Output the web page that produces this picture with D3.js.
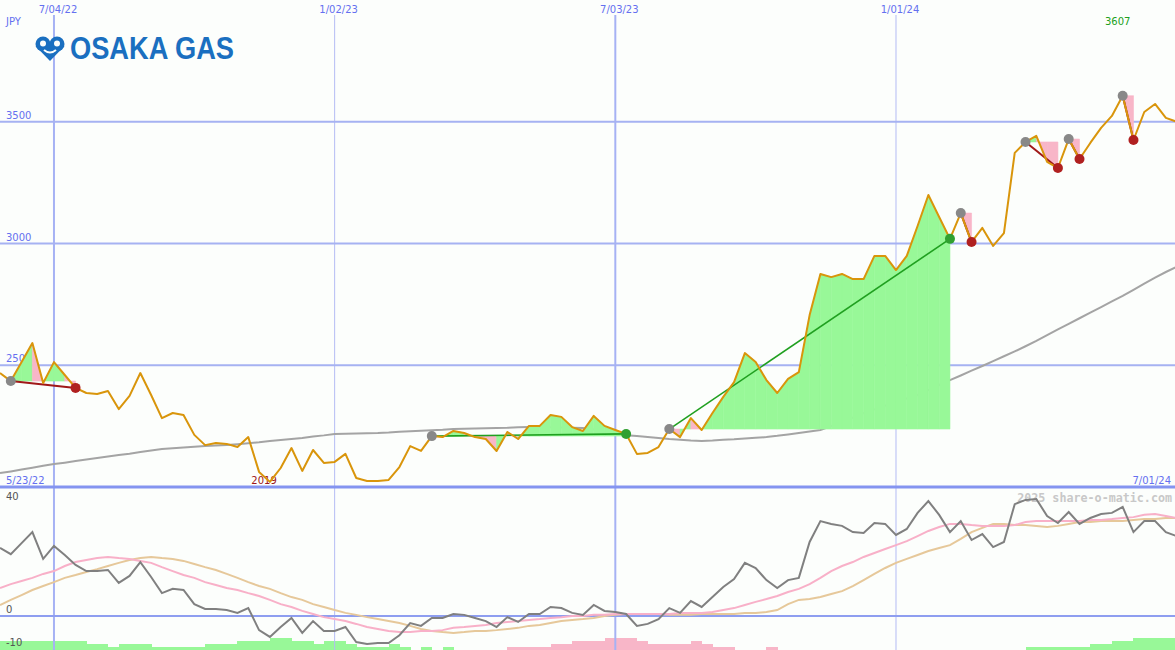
<!DOCTYPE html>
<html><head><meta charset="utf-8">
<script src="https://cdn.jsdelivr.net/npm/d3@7"></script>
<style>html,body{margin:0;padding:0;background:#fcfefc;}svg{display:block;}</style>
</head><body>
<svg id="c" width="1175" height="650"></svg>
<script>
// ---------- DATA ----------
const startDate = Date.UTC(2022, 4, 30); // first weekly point
const price = [2468,2435,2513,2591,2427,2513,2460,2407,2386,2382,2394,2320,2374,2468,2378,2283,2304,2296,2214,2172,
 2181,2177,2164,2205,2062,2021,2078,2160,2066,2152,2099,2103,2136,2037,2025,2025,2029,2082,2168,2148,
 2209,2205,2230,2222,2205,2197,2148,2226,2197,2251,2251,2296,2288,2246,2230,2292,2251,2234,2218,2136,
 2140,2164,2238,2205,2283,2234,2304,2370,2431,2550,2513,2439,2386,2444,2472,2706,2875,2862,2875,2854,
 2854,2949,2949,2891,2949,3072,3199,3109,3019,3125,3006,3064,2990,3043,3372,3417,3442,3335,3310,3429,
 3347,3413,3475,3524,3607,3425,3540,3573,3516,3500];
const movingAvg = [2057,2064,2072,2079,2087,2094,2100,2107,2113,2119,2125,2131,2137,2144,2150,2156,2159,2162,2165,2168,
 2170,2172,2176,2180,2184,2189,2193,2197,2201,2207,2212,2218,2219,2220,2221,2222,2224,2227,2229,2231,
 2233,2235,2238,2239,2240,2241,2242,2243,2245,2246,2246,2245,2244,2243,2242,2236,2227,2218,2213,2209,
 2205,2201,2197,2194,2191,2189,2191,2194,2196,2199,2202,2205,2210,2216,2222,2228,2234,2250,2267,2285,
 2304,2319,2334,2349,2364,2378,2398,2419,2439,2458,2478,2497,2517,2537,2557,2578,2600,2624,2647,2670,
 2693,2716,2739,2762,2785,2810,2835,2860,2883,2904];
const oscillator = [24.1,21.9,25.8,29.7,20.2,24.8,21.6,18.1,15.9,15.9,16.3,11.7,14.2,19.1,13.8,8.1,9.6,9.2,4.2,2.5,
 2.5,2.1,1.1,2.8,-5.0,-7.4,-3.9,-0.7,-6.0,-1.8,-5.3,-5.3,-3.9,-9.2,-9.9,-9.6,-9.6,-6.8,-2.5,-3.5,
 -0.7,-0.7,0.7,0.4,-0.7,-1.8,-3.9,-0.4,-2.1,0.7,0.7,3.2,2.8,1.1,0.4,3.9,1.8,1.4,0.7,-3.5,
 -2.8,-1.1,2.8,1.1,5.3,3.2,6.7,10.3,13.1,18.8,17.0,12.7,9.9,12.7,13.5,26.2,33.6,32.6,31.9,29.7,
 29.4,32.9,32.6,28.7,30.8,36.5,40.7,35.8,29.7,33.6,26.9,29.0,24.4,26.2,39.6,41.1,41.4,35.4,32.9,36.8,
 32.6,34.7,36.1,36.5,38.6,29.7,33.6,33.6,29.7,28.3];
const oscFast = [9.9,11.3,12.4,13.5,14.9,15.9,17.7,19.1,19.8,20.5,20.9,20.5,20.2,19.5,18.8,17.3,15.9,14.5,13.5,12.0,
 11.0,9.9,9.2,8.1,7.1,5.7,4.2,3.2,1.8,0.7,-0.4,-1.1,-1.8,-2.8,-3.9,-4.6,-5.3,-5.7,-5.7,-5.3,
 -5.3,-5.0,-4.2,-3.9,-3.5,-3.2,-2.5,-2.1,-1.8,-1.4,-1.1,-0.7,-0.4,0,0,0.4,0.4,0.7,0.7,0.7,
 0.7,0.7,0.7,1.1,1.1,1.1,1.4,2.1,2.8,3.9,5.0,6.0,7.1,8.5,9.6,11.3,13.5,15.9,17.7,19.1,
 20.9,22.3,23.7,25.1,26.5,28.3,30.1,31.5,32.6,32.6,32.2,31.9,31.9,31.9,32.2,33.3,33.6,33.6,33.6,33.6,
 33.6,34.0,34.0,34.3,34.7,35.0,35.8,36.1,35.4,34.7];
const oscSlow = [3.9,5.7,7.4,9.2,10.6,12.0,13.5,14.5,15.6,16.6,17.7,18.8,19.8,20.5,20.9,20.5,20.2,19.5,18.4,17.3,
 16.3,14.9,13.5,12.0,10.6,9.6,8.1,6.7,5.7,4.2,3.2,2.1,1.1,0.4,-0.4,-1.1,-1.8,-2.5,-3.5,-4.6,
 -5.3,-5.7,-6.0,-5.7,-5.3,-5.3,-5.0,-4.6,-4.2,-3.5,-3.2,-2.5,-1.8,-1.4,-1.1,-0.7,0,0.4,0.7,0.7,
 0.7,0.7,0.4,0.4,0.4,0.7,0.7,0.7,0.7,1.1,1.1,1.4,2.1,4.2,5.7,6.0,6.7,7.8,8.8,10.6,
 12.7,14.9,17.0,18.8,20.2,21.6,23.0,24.1,25.1,27.3,29.7,31.2,32.6,32.6,32.2,32.2,31.9,31.5,31.9,32.6,
 33.3,33.3,33.6,33.6,33.6,34.0,34.3,34.3,34.7,34.7];
// weekly histogram (+ green, - pink), one per week interval
const histo = [3,3,3,3,3,3,3,3,2,2,1,2,2,2,1,1,1,1,1,2,2,2,3,3,3,4,4,3,3,2,3,3,2,1,1,1,2,1,0,1,
 0,1,0,0,0,0,0,-1,-1,-1,-1,-2,-2,-3,-3,-3,-4,-4,-4,-3,-2,-2,-2,-2,-3,-2,-1,-1,0,0,0,-1,0,0,0,0,0,0,0,0,
 0,0,0,0,0,0,0,0,0,0,0,0,0,0,0,1,1,1,1,1,1,2,2,3,3,4,4,4,4];
// signals: start week index, end week index, direction
const signals = [
  {start:1, end:7, dir:"down"},
  {start:40, end:58, dir:"up"},
  {start:62, end:88, dir:"up"},
  {start:89, end:90, dir:"down"},
  {start:95, end:98, dir:"down"},
  {start:99, end:100, dir:"down"},
  {start:104, end:105, dir:"down"}
];
const priceTicks = [3500, 3000, 2500];
const oscTicks = [40, 0, -10];
const dateTicks = [Date.UTC(2022,6,4), Date.UTC(2023,0,2), Date.UTC(2023,6,3), Date.UTC(2024,0,1)];
const majorDateTicks = [Date.UTC(2022,6,4), Date.UTC(2023,6,3)];
const rangeStartLabel = "5/23/22", rangeEndLabel = "7/01/24";
const eventLabel = {text:"2019", index:24};
const currency = "JPY";
const maxLabel = d3.max(price);

// ---------- SCALES ----------
const dates = price.map((_, i) => new Date(startDate + i * 7 * 864e5));
const pxPerWeek = 10.795;
const x = d3.scaleUtc().domain([dates[0], dates[dates.length-1]]).range([0, (dates.length-1)*pxPerWeek]);
const y = d3.scaleLinear().domain([2000, 4000]).range([487, 0]);
const yo = d3.scaleLinear().domain([-10, 40]).range([644.25, 503]);
const yh = d3.scaleLinear().domain([0, 4]).range([650, 638]);
const fmt = d3.utcFormat("%-m/%d/%y");

const svg = d3.select("#c");
const blue = "#6470f0";
const GREEN = "#98f898", PINK = "#f8b6c8";
svg.append("rect").attr("width",1175).attr("height",650).attr("fill","#fcfefc");

// histogram
const hist = svg.append("g").attr("shape-rendering","crispEdges");
histo.forEach((v, i) => {
  if (!v) return;
  const x0 = x(dates[i]), x1 = x(new Date(+dates[i] + 7*864e5));
  const c = v > 0 ? GREEN : PINK;
  hist.append("rect").attr("x", x0).attr("width", x1 - x0 + 0.5)
    .attr("y", yh(Math.abs(v))).attr("height", 650 - yh(Math.abs(v)))
    .attr("fill", c);
});

// vertical grid
dateTicks.forEach(d => {
  const major = majorDateTicks.includes(d);
  svg.append("line").attr("x1", x(d)).attr("x2", x(d)).attr("y1", 15).attr("y2", 650)
    .attr("stroke", major ? "#a6b2f4" : "#b4bcf4").attr("stroke-width", major ? 2 : 1);
});
// horizontal grid upper
priceTicks.forEach(v => {
  svg.append("line").attr("x1",0).attr("x2",1175).attr("y1",y(v)).attr("y2",y(v))
    .attr("stroke","#a6b2f2").attr("stroke-width",2);
  svg.append("text").attr("x",6).attr("y",y(v)-3).text(v)
    .attr("font-family","DejaVu Sans").attr("font-size",10).attr("fill",blue);
});
// panel divider and zero line
svg.append("line").attr("x1",0).attr("x2",1175).attr("y1",y(2000)).attr("y2",y(2000))
  .attr("stroke","#8494f0").attr("stroke-width",3);
svg.append("line").attr("x1",0).attr("x2",1175).attr("y1",yo(0)).attr("y2",yo(0))
  .attr("stroke","#8e9ef0").attr("stroke-width",2);
oscTicks.forEach((v, k) => {
  const last = k === oscTicks.length - 1;
  svg.append("text").attr("x",6).attr("y", last ? yo(v)+2 : yo(v)-3).text(v)
    .attr("font-family","DejaVu Sans").attr("font-size",10).attr("fill","#555");
});

// date labels
dateTicks.forEach(d => {
  svg.append("text").attr("x", x(d)+4).attr("y", 13).attr("text-anchor","middle").text(fmt(new Date(d)))
    .attr("font-family","DejaVu Sans").attr("font-size",10).attr("fill",blue);
});
svg.append("text").attr("x",6).attr("y",25).text(currency)
  .attr("font-family","DejaVu Sans").attr("font-size",10).attr("fill",blue);
svg.append("text").attr("x",6).attr("y",484).text(rangeStartLabel)
  .attr("font-family","DejaVu Sans").attr("font-size",10).attr("fill",blue);
svg.append("text").attr("x",1171).attr("y",484).attr("text-anchor","end").text(rangeEndLabel)
  .attr("font-family","DejaVu Sans").attr("font-size",10).attr("fill",blue);
svg.append("text").attr("x",x(dates[eventLabel.index])+5).attr("y",484).attr("text-anchor","middle").text(eventLabel.text)
  .attr("font-family","DejaVu Sans").attr("font-size",10).attr("fill","#a01818");
const iMax = price.indexOf(maxLabel);
svg.append("text").attr("x",x(dates[iMax])-5).attr("y",25).attr("text-anchor","middle").text(maxLabel)
  .attr("font-family","DejaVu Sans").attr("font-size",10).attr("fill","#20a020");
svg.append("text").attr("x",1172).attr("y",502).attr("text-anchor","end").text("2025 share-o-matic.com")
  .attr("font-family","DejaVu Sans Mono").attr("font-weight","bold").attr("font-size",11.7).attr("fill","#c8c8c8");

// moving average (upper)
svg.append("path").attr("d", d3.line().x((d,i)=>x(dates[i])).y(d=>y(d))(movingAvg))
  .attr("fill","none").attr("stroke","#a4a4a4").attr("stroke-width",2);

// signal fills (one column per week between price and the signal's start price)
const fills = svg.append("g");
signals.forEach(s => {
  const base = price[s.start];
  for (let k = s.start; k < s.end; k++) {
    const pts = [k, k+1];
    const a = d3.area().x(i=>x(dates[i])).y0(y(base)).y1(i=>y(price[i]));
    const c = price[k+1] >= base ? GREEN : PINK;
    fills.append("path").attr("d", a(pts)).attr("fill", c).attr("stroke", c).attr("stroke-width", 0.6);
  }
});
// trend lines
signals.forEach(s => {
  svg.append("line")
    .attr("x1", x(dates[s.start])).attr("y1", y(price[s.start]))
    .attr("x2", x(dates[s.end])).attr("y2", y(price[s.end]))
    .attr("stroke", s.dir === "up" ? "#20a020" : "#a01818")
    .attr("stroke-width", s.dir === "up" ? 1.6 : 2);
});

// price line
svg.append("path").attr("d", d3.line().x((d,i)=>x(dates[i])).y(d=>y(d))(price))
  .attr("fill","none").attr("stroke","#d9950b").attr("stroke-width",2).attr("stroke-linejoin","round");

// markers
signals.forEach(s => {
  svg.append("circle").attr("cx", x(dates[s.start])).attr("cy", y(price[s.start])).attr("r",5).attr("fill","#888");
  svg.append("circle").attr("cx", x(dates[s.end])).attr("cy", y(price[s.end])).attr("r",5)
    .attr("fill", s.dir === "up" ? "#30a030" : "#b02020");
});

// lower panel lines
const lo = d3.line().x((d,i)=>x(dates[i])).y(d=>yo(d));
svg.append("path").attr("d", lo(oscSlow)).attr("fill","none").attr("stroke","#e6c89a").attr("stroke-width",2);
svg.append("path").attr("d", lo(oscFast)).attr("fill","none").attr("stroke","#f8b0c8").attr("stroke-width",2);
svg.append("path").attr("d", lo(oscillator)).attr("fill","none").attr("stroke","#808080").attr("stroke-width",2);

// logo
const logo = svg.append("g").attr("fill","#1a6fc0");
logo.append("path").attr("d","M35.5,46 L50,61 L64.5,46 Z");
logo.append("circle").attr("cx",43).attr("cy",44).attr("r",7.5);
logo.append("circle").attr("cx",57).attr("cy",44).attr("r",7.5);
logo.append("circle").attr("cx",43).attr("cy",43.5).attr("r",3).attr("fill","#fcfefc");
logo.append("circle").attr("cx",57).attr("cy",43.5).attr("r",3).attr("fill","#fcfefc");
logo.append("path").attr("d","M44,50 Q50,55 56,50").attr("fill","none").attr("stroke","#fcfefc").attr("stroke-width",2);
logo.append("text").attr("x",70).attr("y",59).text("OSAKA GAS")
  .attr("font-family","Liberation Sans").attr("font-weight","bold").attr("font-size",30.5)
  .attr("textLength",164).attr("lengthAdjust","spacingAndGlyphs");
</script>
</body></html>
